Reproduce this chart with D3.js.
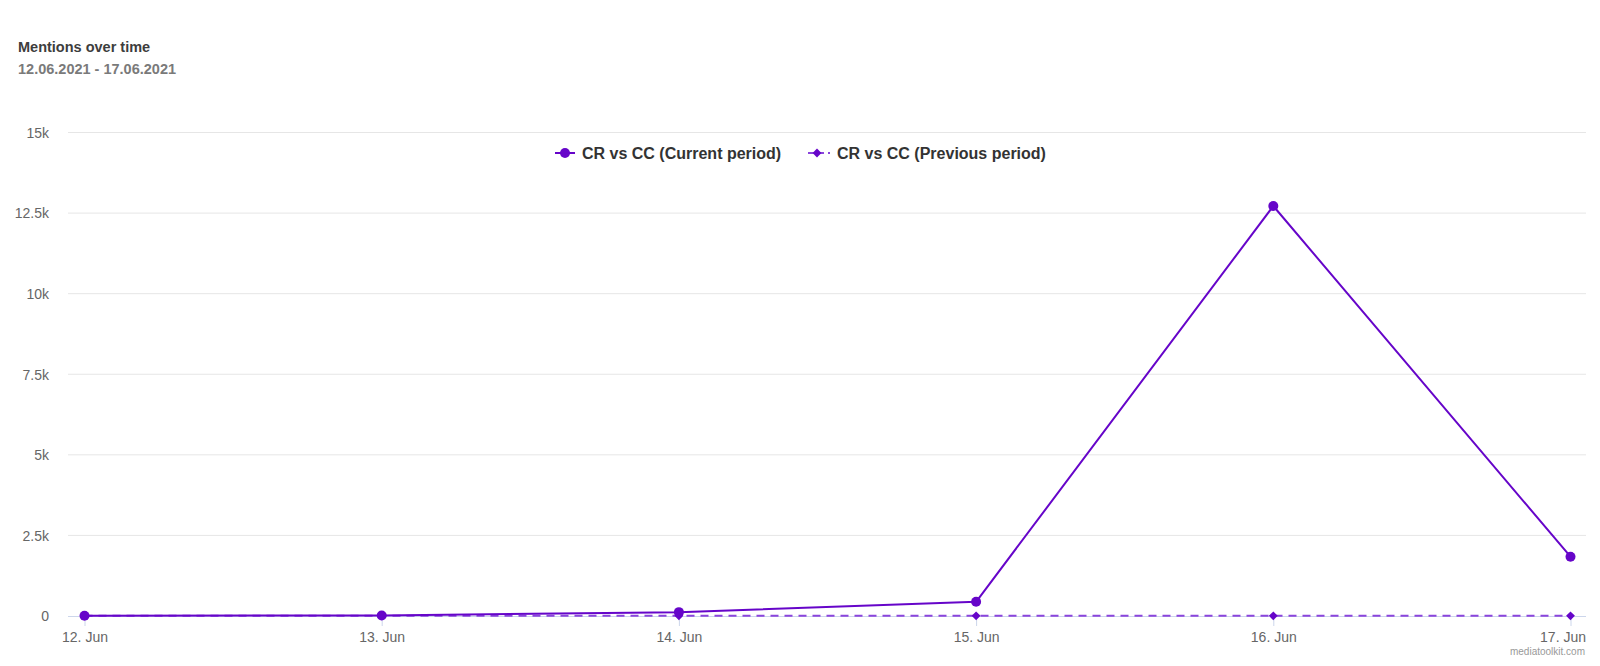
<!DOCTYPE html>
<html>
<head>
<meta charset="utf-8">
<script src="https://cdn.jsdelivr.net/npm/d3@7/dist/d3.min.js"></script>
<style>
  html, body { margin: 0; padding: 0; background: #fff; }
  svg { display: block; font-family: "Liberation Sans", Arial, Helvetica, sans-serif; }
</style>
</head>
<body>
<svg id="chart" width="1600" height="666"></svg>
<script>
// Daily mention counts, 12–17 June 2021
const days = ["12. Jun", "13. Jun", "14. Jun", "15. Jun", "16. Jun", "17. Jun"];
const currentPeriod = [10, 15, 120, 440, 12720, 1840];
const previousPeriod = [5, 5, 5, 5, 5, 5];
const yTicks = [0, 2500, 5000, 7500, 10000, 12500, 15000];
const yTickLabels = ["0", "2.5k", "5k", "7.5k", "10k", "12.5k", "15k"];
const seriesNames = ["CR vs CC (Current period)", "CR vs CC (Previous period)"];

const svg = d3.select("#chart");
const plot = { left: 68, right: 1586, top: 132.5, bottom: 616 };
const purple = "#6605c9";
const purpleDash = "#8a45dc";

// Title and date range
svg.append("text").attr("x", 18).attr("y", 52)
  .attr("font-size", 14.5).attr("font-weight", "bold").attr("fill", "#3d3d3d")
  .text("Mentions over time");
svg.append("text").attr("x", 18).attr("y", 74)
  .attr("font-size", 14.5).attr("font-weight", "bold").attr("fill", "#7a7a7a")
  .text("12.06.2021 - 17.06.2021");

const x = d3.scalePoint().domain(days).range([plot.left + 16.5, plot.right - 15.5]);
const y = d3.scaleLinear().domain([0, 15000]).range([plot.bottom, plot.top]);

// Horizontal grid lines
svg.append("g").selectAll("line").data(yTicks.slice(1)).join("line")
  .attr("x1", plot.left).attr("x2", plot.right)
  .attr("y1", d => y(d)).attr("y2", d => y(d))
  .attr("stroke", "#e6e6e6").attr("stroke-width", 1);

// Y axis labels
const yAxis = d3.axisLeft(y).tickValues(yTicks)
  .tickFormat((d, i) => yTickLabels[i]).tickSize(0).tickPadding(0);
const yg = svg.append("g").attr("transform", "translate(49,0)").call(yAxis);
yg.select(".domain").remove();
yg.selectAll("text").attr("font-size", 14).attr("fill", "#666")
  .attr("font-family", "Liberation Sans, Arial, sans-serif").attr("dy", "0.35em");

// X axis baseline with tick marks
const xAxis = d3.axisBottom(x).tickSize(10).tickPadding(6);
const xg = svg.append("g").attr("transform", `translate(0,${plot.bottom})`).call(xAxis);
xg.select(".domain").attr("d", `M${plot.left},0.5H${plot.right}`).attr("stroke", "#ccd6eb");
xg.selectAll(".tick line").attr("stroke", "#ccd6eb");
xg.selectAll("text").attr("font-size", 14).attr("fill", "#666")
  .attr("font-family", "Liberation Sans, Arial, sans-serif");
// last label is right-aligned so it stays inside the chart
xg.selectAll(".tick text").filter((d, i) => i === days.length - 1)
  .attr("text-anchor", "end").attr("x", 15);

const line = d3.line().x((d, i) => x(days[i])).y(d => y(d));

// Previous period: dashed line with diamond markers
svg.append("path").datum(previousPeriod)
  .attr("d", line).attr("fill", "none")
  .attr("stroke", purpleDash).attr("stroke-width", 2).attr("stroke-dasharray", "8,6");
svg.append("g").selectAll("path").data(previousPeriod).join("path")
  .attr("d", d3.symbol(d3.symbolDiamond2, 50))
  .attr("transform", (d, i) => `translate(${x(days[i])},${y(d)})`)
  .attr("fill", purple);

// Current period: solid line with circle markers
svg.append("path").datum(currentPeriod)
  .attr("d", line).attr("fill", "none")
  .attr("stroke", purple).attr("stroke-width", 2).attr("stroke-linejoin", "round");
svg.append("g").selectAll("circle").data(currentPeriod).join("circle")
  .attr("cx", (d, i) => x(days[i])).attr("cy", d => y(d)).attr("r", 5)
  .attr("fill", purple);

// Legend
const legend = svg.append("g").attr("transform", "translate(0,153)");
const l1 = legend.append("g").attr("transform", "translate(555,0)");
l1.append("line").attr("x1", 0).attr("x2", 20).attr("stroke", purple).attr("stroke-width", 2);
l1.append("circle").attr("cx", 10).attr("r", 5).attr("fill", purple);
l1.append("text").attr("x", 27).attr("dy", "0.35em")
  .attr("font-size", 16).attr("font-weight", "bold").attr("fill", "#333")
  .text(seriesNames[0]);
const l2 = legend.append("g").attr("transform", "translate(808,0)");
l2.append("line").attr("x1", 0).attr("x2", 23).attr("stroke", purpleDash).attr("stroke-width", 2)
  .attr("stroke-dasharray", "16,4,2,4");
l2.append("path").attr("d", d3.symbol(d3.symbolDiamond2, 50)).attr("transform", "translate(9,0)")
  .attr("fill", purple);
l2.append("text").attr("x", 29).attr("dy", "0.35em")
  .attr("font-size", 16).attr("font-weight", "bold").attr("fill", "#333")
  .text(seriesNames[1]);

// Credit
svg.append("text").attr("x", 1585).attr("y", 655).attr("text-anchor", "end")
  .attr("font-size", 10).attr("fill", "#999")
  .text("mediatoolkit.com");
</script>
</body>
</html>
